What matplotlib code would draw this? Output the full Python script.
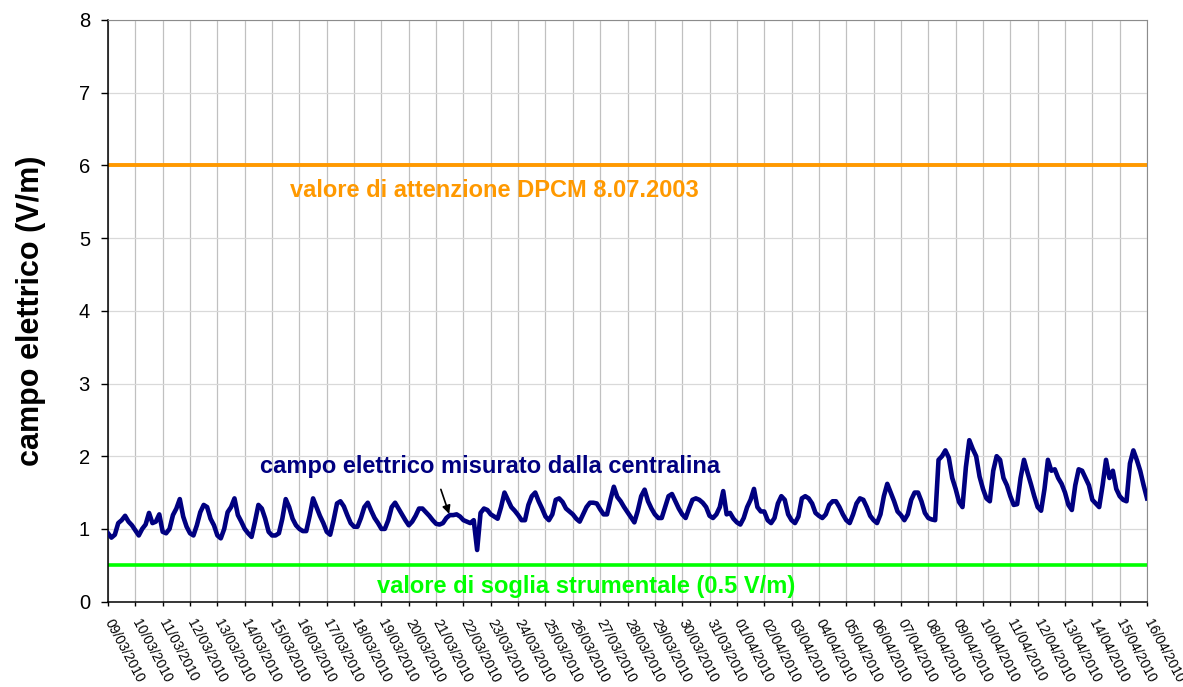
import matplotlib.pyplot as plt
import numpy as np
import pandas as pd

plt.rcParams["font.family"] = ["Liberation Sans", "DejaVu Sans"]

# periodo di misura e passo di campionamento (una lettura ogni 3 ore)
data_inizio = "2010-03-09"
data_fine = "2010-04-16"
letture_al_giorno = 8

# campo elettrico misurato dalla centralina (V/m), una riga per giorno
campo_misurato = [
    0.94, 0.88, 0.92, 1.08, 1.12, 1.18, 1.10, 1.05,
    0.98, 0.91, 1.00, 1.06, 1.22, 1.08, 1.10, 1.20,
    0.96, 0.94, 1.00, 1.19, 1.28, 1.41, 1.17, 1.03,
    0.94, 0.91, 1.05, 1.23, 1.33, 1.30, 1.14, 1.05,
    0.91, 0.87, 1.00, 1.23, 1.30, 1.42, 1.19, 1.10,
    1.00, 0.94, 0.89, 1.10, 1.33, 1.28, 1.14, 0.96,
    0.91, 0.91, 0.94, 1.14, 1.41, 1.30, 1.14, 1.05,
    1.00, 0.97, 0.97, 1.18, 1.42, 1.30, 1.18, 1.08,
    0.96, 0.92, 1.12, 1.35, 1.38, 1.31, 1.19, 1.08,
    1.03, 1.03, 1.15, 1.30, 1.36, 1.25, 1.15, 1.08,
    1.00, 1.00, 1.12, 1.30, 1.36, 1.28, 1.20, 1.12,
    1.05, 1.10, 1.18, 1.28, 1.28, 1.23, 1.18, 1.12,
    1.07, 1.06, 1.08, 1.15, 1.19, 1.19, 1.20, 1.17,
    1.12, 1.10, 1.08, 1.12, 0.71, 1.22, 1.28, 1.26,
    1.20, 1.17, 1.14, 1.30, 1.50, 1.40, 1.30, 1.25,
    1.19, 1.12, 1.12, 1.33, 1.45, 1.50, 1.38, 1.28,
    1.17, 1.12, 1.20, 1.40, 1.42, 1.37, 1.28, 1.24,
    1.20, 1.14, 1.10, 1.20, 1.30, 1.36, 1.36, 1.35,
    1.27, 1.20, 1.20, 1.40, 1.58, 1.44, 1.38, 1.30,
    1.23, 1.16, 1.09, 1.25, 1.45, 1.54, 1.38, 1.28,
    1.20, 1.15, 1.15, 1.30, 1.45, 1.48, 1.38, 1.28,
    1.20, 1.15, 1.28, 1.40, 1.42, 1.40, 1.36, 1.30,
    1.18, 1.15, 1.20, 1.30, 1.52, 1.20, 1.22, 1.14,
    1.09, 1.06, 1.15, 1.30, 1.40, 1.55, 1.30, 1.24,
    1.24, 1.12, 1.08, 1.15, 1.35, 1.45, 1.40, 1.20,
    1.12, 1.08, 1.17, 1.42, 1.45, 1.42, 1.35, 1.22,
    1.18, 1.15, 1.20, 1.33, 1.38, 1.38, 1.30, 1.20,
    1.12, 1.08, 1.20, 1.35, 1.42, 1.40, 1.30, 1.18,
    1.12, 1.08, 1.20, 1.45, 1.62, 1.50, 1.38, 1.24,
    1.19, 1.12, 1.20, 1.40, 1.50, 1.50, 1.38, 1.22,
    1.15, 1.13, 1.12, 1.95, 2.00, 2.08, 1.98, 1.70,
    1.55, 1.37, 1.30, 1.85, 2.22, 2.10, 2.00, 1.72,
    1.55, 1.42, 1.38, 1.80, 2.00, 1.95, 1.70, 1.60,
    1.45, 1.33, 1.34, 1.70, 1.95, 1.78, 1.62, 1.45,
    1.30, 1.25, 1.55, 1.95, 1.80, 1.82, 1.70, 1.62,
    1.50, 1.33, 1.26, 1.60, 1.82, 1.80, 1.70, 1.60,
    1.40, 1.35, 1.30, 1.60, 1.95, 1.70, 1.80, 1.55,
    1.45, 1.40, 1.38, 1.90, 2.08, 1.95, 1.80, 1.60,
    1.42,
]

valore_attenzione = 6.0
soglia_strumentale = 0.5

etichetta_misura = "campo elettrico misurato dalla centralina"
etichetta_attenzione = "valore di attenzione DPCM 8.07.2003"
etichetta_soglia = "valore di soglia strumentale (0.5 V/m)"
etichetta_asse_y = "campo elettrico (V/m)"

BLU = "#000080"
ARANCIO = "#FF9900"
VERDE = "#00FF00"

date = pd.date_range(data_inizio, data_fine, freq="D")
etichette_date = date.strftime("%d/%m/%Y")
giorni = np.arange(len(date))
tempo = np.arange(len(campo_misurato)) / letture_al_giorno

fig = plt.figure(figsize=(11.83, 6.87), dpi=100)
ax = fig.add_axes([0.0913, 0.1243, 0.8783, 0.8466])

ax.plot(tempo, campo_misurato, color=BLU, linewidth=3.3, solid_joinstyle="round", zorder=3)
ax.axhline(valore_attenzione, color=ARANCIO, linewidth=2.8, zorder=2)
ax.axhline(soglia_strumentale, color=VERDE, linewidth=2.6, zorder=2)

ax.set_xlim(giorni[0], giorni[-1])
ax.set_ylim(0, 8)
ax.set_xticks(giorni)
ax.set_xticklabels(etichette_date, rotation=-62, ha="left", va="center",
                   rotation_mode="anchor", fontsize=10)
ax.set_yticks(np.arange(0, 9))
ax.tick_params(axis="y", labelsize=14.5, length=5, width=1, pad=8)
ax.tick_params(axis="x", length=3, width=1, pad=10)

ax.grid(axis="x", color="#c0c0c0", linewidth=0.9)
ax.grid(axis="y", color="#d9d9d9", linewidth=0.9)
ax.set_axisbelow(True)
for lato in ("top", "right"):
    ax.spines[lato].set_color("#8c8c8c")
for lato in ("left", "bottom"):
    ax.spines[lato].set_color("black")
    ax.spines[lato].set_linewidth(1.1)

ax.set_ylabel(etichetta_asse_y, fontsize=22, fontweight="bold")
ax.yaxis.set_label_coords(-0.06, 0.5)

ax.text(14.14, 5.66, etichetta_attenzione, color=ARANCIO, fontsize=17,
        fontweight="bold", ha="center", va="center")
ax.text(13.97, 1.865, etichetta_misura, color=BLU, fontsize=17,
        fontweight="bold", ha="center", va="center")
ax.text(17.48, 0.214, etichetta_soglia, color=VERDE, fontsize=17,
        fontweight="bold", ha="center", va="center")
ax.annotate("", xy=(12.51, 1.17), xytext=(12.14, 1.58),
            arrowprops=dict(arrowstyle="-|>", color="black", lw=1.2, mutation_scale=12))

fig.savefig("out.png", dpi=100)
